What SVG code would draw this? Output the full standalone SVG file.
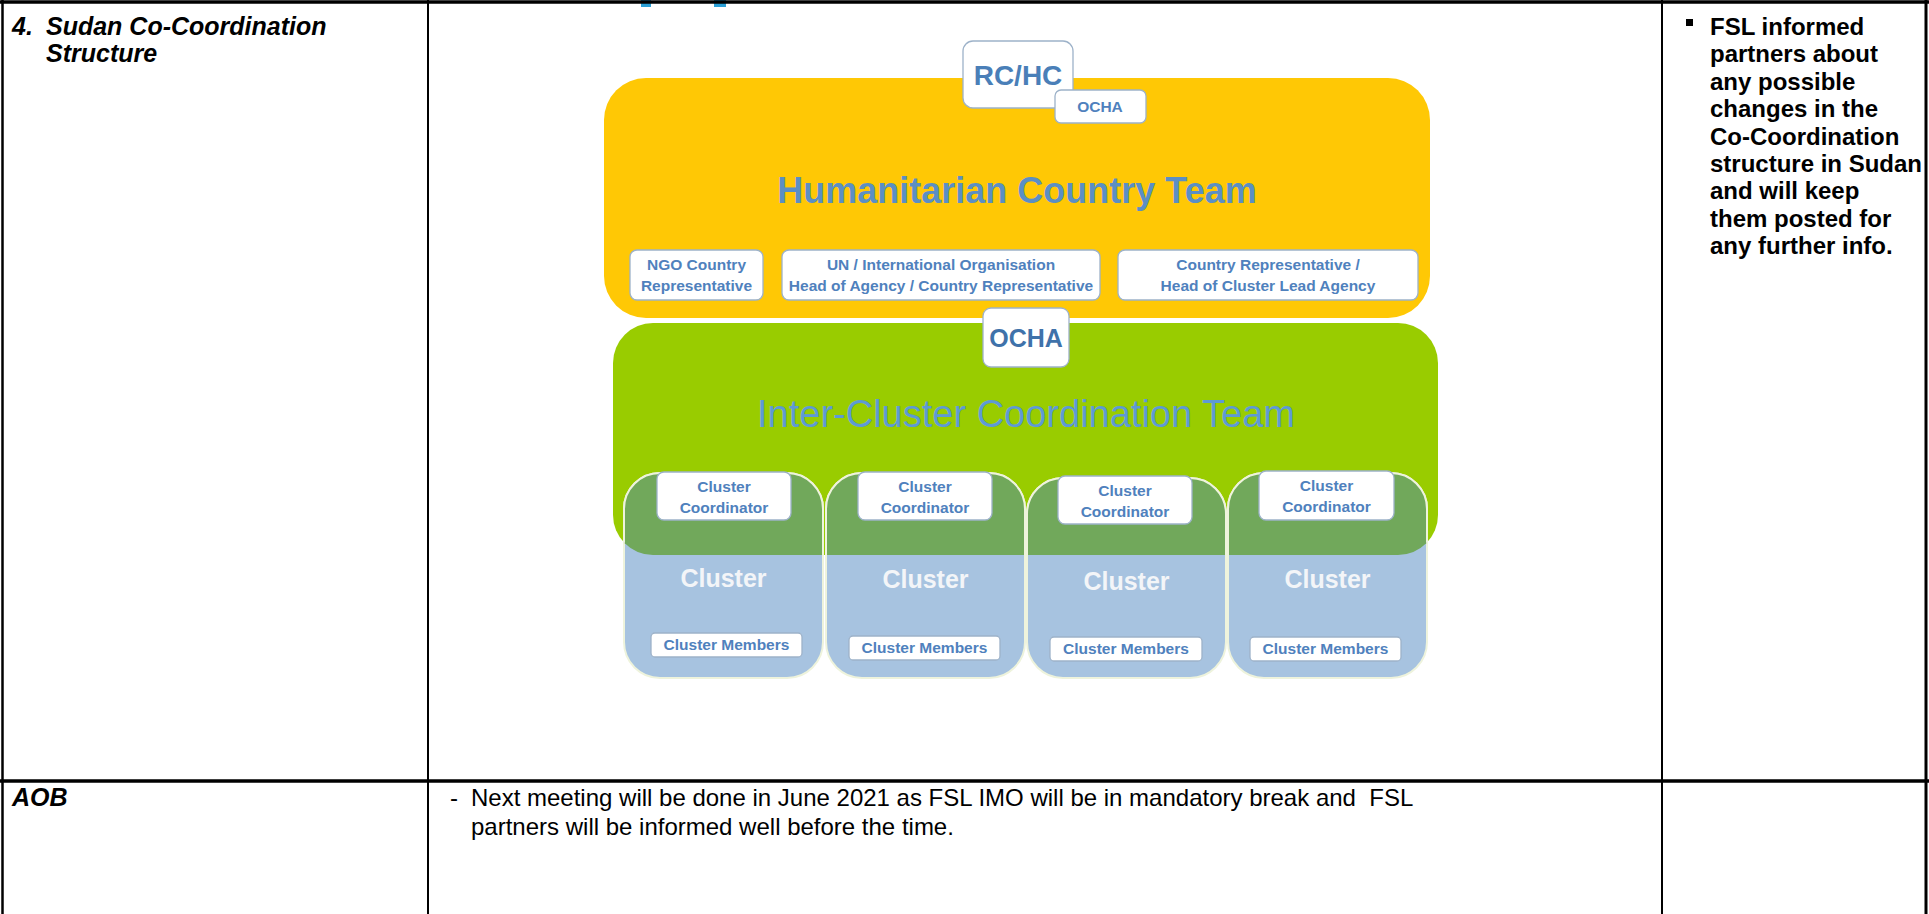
<svg xmlns="http://www.w3.org/2000/svg" width="1929" height="914" viewBox="0 0 1929 914">
<style>
.ln{stroke:#000;fill:none}
.t{font-family:'Liberation Sans',Arial,sans-serif;fill:#000}
.bi{font-weight:bold;font-style:italic;font-size:25px}
.b{font-weight:bold;font-size:24px}
.r{font-size:24px}
.box{fill:#fff;stroke:#9db2c9;stroke-width:1.3}
.lbl{font-family:'Liberation Sans',Arial,sans-serif;font-weight:bold;fill:#4f81bd;text-anchor:middle;font-size:15.5px}
.big{font-family:'Liberation Sans',Arial,sans-serif;text-anchor:middle}
.col{fill:#a7c3e0;stroke:#eef3dc;stroke-width:2}
.colg{fill:#71a85b;stroke:#eef3dc;stroke-width:2}
.cl{font-family:'Liberation Sans',Arial,sans-serif;font-weight:bold;fill:#f3f5f8;text-anchor:middle;font-size:25px}
</style>
<defs>
<clipPath id="gclip"><rect x="613" y="323" width="825" height="232" rx="40"/></clipPath>
</defs>

<g id="heading-fragments">
<rect x="641" y="0" width="10" height="7" fill="#2a9fd6"/>
<rect x="714" y="0" width="12" height="7" fill="#2a9fd6"/>
</g>

<g id="table">
<line class="ln" x1="0" y1="2" x2="1929" y2="2" stroke-width="3.5"/>
<line class="ln" x1="2.5" y1="0" x2="2.5" y2="914" stroke-width="2.5"/>
<line class="ln" x1="428" y1="0" x2="428" y2="914" stroke-width="2"/>
<line class="ln" x1="1662" y1="0" x2="1662" y2="914" stroke-width="2"/>
<line class="ln" x1="1926" y1="0" x2="1926" y2="914" stroke-width="3"/>
<line class="ln" x1="0" y1="781" x2="1929" y2="781" stroke-width="3.5"/>
</g>

<g id="left-text">
<text class="t bi" x="12" y="35">4.</text>
<text class="t bi" x="46" y="35">Sudan Co-Coordination</text>
<text class="t bi" x="46" y="62">Structure</text>
<text class="t bi" x="12" y="806">AOB</text>
</g>

<g id="right-text">
<rect x="1686" y="19" width="7" height="7" fill="#000"/>
<text class="t b" x="1710" y="35">FSL informed</text>
<text class="t b" x="1710" y="62">partners about</text>
<text class="t b" x="1710" y="90">any possible</text>
<text class="t b" x="1710" y="117">changes in the</text>
<text class="t b" x="1710" y="145">Co-Coordination</text>
<text class="t b" x="1710" y="172">structure in Sudan</text>
<text class="t b" x="1710" y="199">and will keep</text>
<text class="t b" x="1710" y="227">them posted for</text>
<text class="t b" x="1710" y="254">any further info.</text>
</g>

<g id="aob-text">
<text class="t r" x="450" y="806">-</text>
<text class="t r" x="471" y="806" xml:space="preserve">Next meeting will be done in June 2021 as FSL IMO will be in mandatory break and  FSL</text>
<text class="t r" x="471" y="835">partners will be informed well before the time.</text>
</g>

<g id="hct">
<rect x="604" y="78" width="826" height="240" rx="42" fill="#ffc805"/>
<text class="big" x="1017" y="203" font-size="36" font-weight="bold" fill="#5b8fc4">Humanitarian Country Team</text>
</g>

<g id="rchc">
<rect class="box" x="963" y="41" width="110" height="67" rx="10"/>
<text class="big" x="1018" y="85" font-size="28" font-weight="bold" fill="#4a7fb8">RC/HC</text>
</g>
<g id="ocha-top">
<rect class="box" x="1055" y="90" width="91" height="33" rx="6"/>
<text class="lbl" x="1100" y="112" font-size="15">OCHA</text>
</g>

<g id="ngo">
<rect class="box" x="630" y="250" width="133" height="50" rx="7"/>
<text class="lbl" x="696.5" y="270">NGO Country</text>
<text class="lbl" x="696.5" y="291">Representative</text>
</g>
<g id="un">
<rect class="box" x="782" y="250" width="318" height="50" rx="7"/>
<text class="lbl" x="941" y="270">UN / International Organisation</text>
<text class="lbl" x="941" y="291">Head of Agency / Country Representative</text>
</g>
<g id="crep">
<rect class="box" x="1118" y="250" width="300" height="50" rx="7"/>
<text class="lbl" x="1268" y="270">Country Representative /</text>
<text class="lbl" x="1268" y="291">Head of Cluster Lead Agency</text>
</g>

<g id="icct">
<rect x="613" y="323" width="825" height="232" rx="40" fill="#99cc00"/>
<text class="big" x="1026" y="427" font-size="38" fill="#5e9ad4">Inter-Cluster Coordination Team</text>
</g>

<g id="ocha-mid">
<rect class="box" x="983" y="308" width="86" height="59" rx="8"/>
<text class="big" x="1026" y="347" font-size="25" font-weight="bold" fill="#3f72aa">OCHA</text>
</g>

<g id="clusters-base">
<rect class="col" x="624" y="473" width="199" height="205" rx="36"/>
<rect class="col" x="826" y="473" width="199" height="205" rx="36"/>
<rect class="col" x="1027" y="478" width="199" height="200" rx="36"/>
<rect class="col" x="1228" y="473" width="199" height="205" rx="36"/>
</g>
<g id="clusters-overlap" clip-path="url(#gclip)">
<rect class="colg" x="624" y="473" width="199" height="205" rx="36"/>
<rect class="colg" x="826" y="473" width="199" height="205" rx="36"/>
<rect class="colg" x="1027" y="478" width="199" height="200" rx="36"/>
<rect class="colg" x="1228" y="473" width="199" height="205" rx="36"/>
</g>

<g id="cluster1">
<rect class="box" x="657" y="472" width="134" height="48" rx="7"/>
<text class="lbl" x="724" y="492">Cluster</text>
<text class="lbl" x="724" y="513">Coordinator</text>
<text class="cl" x="723.5" y="587">Cluster</text>
<rect class="box" x="651" y="633" width="151" height="24" rx="4"/>
<text class="lbl" x="726.5" y="650">Cluster Members</text>
</g>
<g id="cluster2">
<rect class="box" x="858" y="472" width="134" height="48" rx="7"/>
<text class="lbl" x="925" y="492">Cluster</text>
<text class="lbl" x="925" y="513">Coordinator</text>
<text class="cl" x="925.5" y="588">Cluster</text>
<rect class="box" x="849" y="636" width="151" height="24" rx="4"/>
<text class="lbl" x="924.5" y="653">Cluster Members</text>
</g>
<g id="cluster3">
<rect class="box" x="1058" y="476" width="134" height="48" rx="7"/>
<text class="lbl" x="1125" y="496">Cluster</text>
<text class="lbl" x="1125" y="517">Coordinator</text>
<text class="cl" x="1126.5" y="590">Cluster</text>
<rect class="box" x="1050" y="637" width="152" height="24" rx="4"/>
<text class="lbl" x="1126" y="654">Cluster Members</text>
</g>
<g id="cluster4">
<rect class="box" x="1259" y="471" width="135" height="49" rx="7"/>
<text class="lbl" x="1326.5" y="491">Cluster</text>
<text class="lbl" x="1326.5" y="512">Coordinator</text>
<text class="cl" x="1327.5" y="588">Cluster</text>
<rect class="box" x="1250" y="637" width="151" height="24" rx="4"/>
<text class="lbl" x="1325.5" y="654">Cluster Members</text>
</g>
</svg>
